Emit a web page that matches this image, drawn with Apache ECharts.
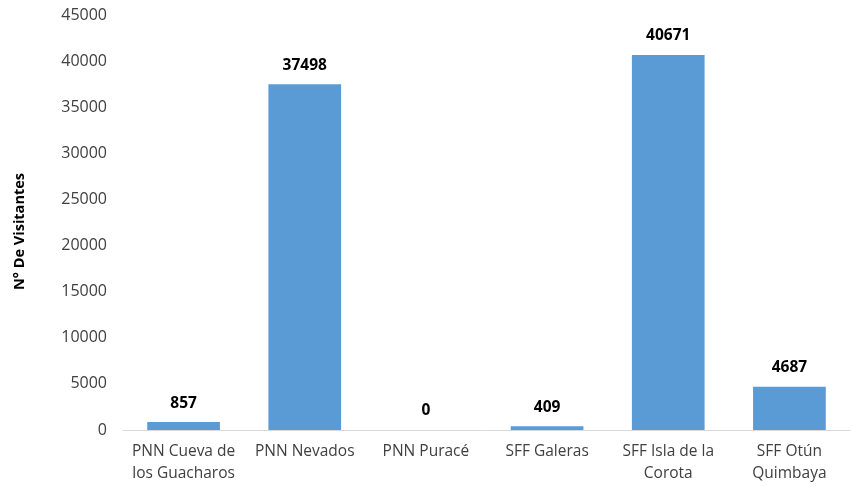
<!DOCTYPE html>
<html>
<head>
<meta charset="utf-8">
<script src="https://cdn.jsdelivr.net/npm/echarts@6/dist/echarts.min.js"></script>
<style>
html,body{margin:0;padding:0;background:#fff;}
#main{width:853px;height:487px;}
</style>
</head>
<body>
<div id="main"></div>
<script>
var categorias = ['PNN Cueva de\nlos Guacharos', 'PNN Nevados', 'PNN Puracé', 'SFF Galeras', 'SFF Isla de la\nCorota', 'SFF Otún\nQuimbaya'];
var visitantes = [857, 37498, 0, 409, 40671, 4687];

var myChart = echarts.init(document.getElementById('main'));

var option = {
    animation: false,
    grid: {
        left: 123,
        right: 3,
        top: 15,
        bottom: 57
    },
    xAxis: {
        type: 'category',
        data: categorias,
        axisLine: {lineStyle: {color: '#d9d9d9'}},
        axisTick: {show: false},
        axisLabel: {
            color: '#404040',
            fontFamily: 'Open Sans',
            fontSize: 15.5,
            lineHeight: 22,
            margin: 11,
            interval: 0
        }
    },
    yAxis: {
        type: 'value',
        min: 0,
        max: 45000,
        interval: 5000,
        name: 'N° De Visitantes',
        nameLocation: 'middle',
        nameGap: 96,
        nameTextStyle: {
            fontFamily: 'Open Sans',
            fontWeight: 'bold',
            fontSize: 14.5,
            color: '#000',
            padding: [0, 18, 0, 0]
        },
        splitLine: {show: false},
        axisLine: {show: false},
        axisTick: {show: false},
        axisLabel: {
            color: '#404040',
            fontFamily: 'Open Sans',
            fontSize: 16,
            margin: 16,
            formatter: function (v) { return String(v); }
        }
    },
    series: [{
        name: 'N° De Visitantes',
        type: 'bar',
        data: visitantes,
        barWidth: '60%',
        itemStyle: {color: '#5b9bd5'},
        label: {
            show: true,
            position: 'top',
            distance: 11,
            fontFamily: 'Open Sans',
            fontWeight: 'bold',
            fontSize: 15.5,
            color: '#000'
        }
    }]
};

myChart.setOption(option);
</script>
</body>
</html>
